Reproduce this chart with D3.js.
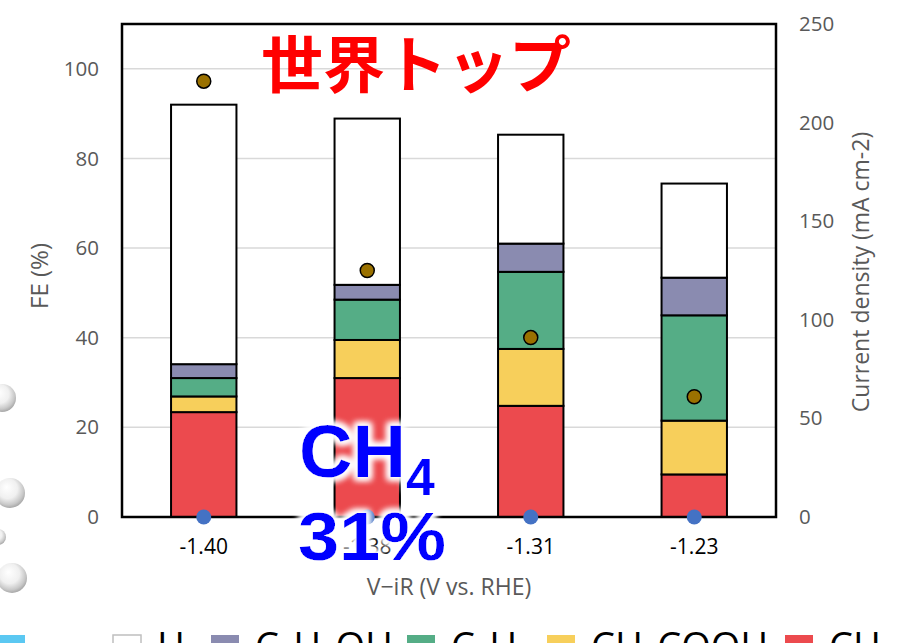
<!DOCTYPE html>
<html>
<head>
<meta charset="utf-8">
<script src="https://cdn.jsdelivr.net/npm/d3@7"></script>
<style>
  html, body { margin: 0; padding: 0; background: #fff; }
  svg { display: block; }
</style>
</head>
<body>
<svg id="chart" width="902" height="643"></svg>
<script>
// Potential (V vs. RHE) categories
const categories = ["-1.40", "-1.38", "-1.31", "-1.23"];
// Faradaic efficiency (%) per product, stacked bottom to top
const ch4     = [23.4, 31.0, 24.8, 9.5];
const ch3cooh = [3.5, 8.5, 12.7, 12.0];
const c2h4    = [4.1, 9.0, 17.2, 23.5];
const c2h5oh  = [3.1, 3.3, 6.3, 8.4];
const h2      = [57.9, 37.1, 24.3, 21.0];
// Current density (mA cm-2), right axis
const currentDensity = [221, 125, 91, 61];
// Marker series sitting on the zero line
const baseMarkers = [0, 0, 0, 0];
// Axis ticks
const leftTicks = [0, 20, 40, 60, 80, 100];
const rightTicks = [0, 50, 100, 150, 200, 250];

const products = [
  { key: "CH4",     values: ch4,     color: "#ec4a4e", label: ["CH", "4"] },
  { key: "CH3COOH", values: ch3cooh, color: "#f7cf5b", label: ["CH", "3", "COOH"] },
  { key: "C2H4",    values: c2h4,    color: "#55ad86", label: ["C", "2", "H", "4"] },
  { key: "C2H5OH",  values: c2h5oh,  color: "#8a8bb0", label: ["C", "2", "H", "5", "OH"] },
  { key: "H2",      values: h2,      color: "#ffffff", label: ["H", "2"] }
];

const svg = d3.select("#chart");
const W = 902, H = 643;
const m = { left: 122, top: 24, right: 126, bottom: 126 };
const pw = W - m.left - m.right, ph = H - m.top - m.bottom;

const x = d3.scaleBand().domain(categories).range([m.left, m.left + pw])
  .paddingInner(0.6).paddingOuter(0.3);
const yL = d3.scaleLinear().domain([0, 110]).range([m.top + ph, m.top]);
const yR = d3.scaleLinear().domain([0, 250]).range([m.top + ph, m.top]);

const defs = svg.append("defs");
const grad = defs.append("radialGradient").attr("id", "ball")
  .attr("cx", "45%").attr("cy", "40%").attr("r", "60%").attr("fx", "38%").attr("fy", "30%");
grad.append("stop").attr("offset", "0%").attr("stop-color", "#ffffff");
grad.append("stop").attr("offset", "55%").attr("stop-color", "#f0f0f0");
grad.append("stop").attr("offset", "85%").attr("stop-color", "#c8c8c8");
grad.append("stop").attr("offset", "100%").attr("stop-color", "#a8a8a8");

const halo = defs.append("filter").attr("id", "halo")
  .attr("x", "-20%").attr("y", "-30%").attr("width", "140%").attr("height", "160%");
halo.append("feMorphology").attr("in", "SourceAlpha").attr("operator", "dilate").attr("radius", 3).attr("result", "d");
halo.append("feGaussianBlur").attr("in", "d").attr("stdDeviation", 3).attr("result", "b");
halo.append("feFlood").attr("flood-color", "#ffffff");
halo.append("feComposite").attr("in2", "b").attr("operator", "in").attr("result", "w");
const hm = halo.append("feMerge");
hm.append("feMergeNode").attr("in", "w");
hm.append("feMergeNode").attr("in", "w");
hm.append("feMergeNode").attr("in", "SourceGraphic");

// decorative molecule spheres on the left edge
const balls = [[2, 398, 14], [10, 493, 15], [-2, 537, 8], [12, 578, 15]];
svg.append("g").selectAll("circle").data(balls).join("circle")
  .attr("cx", d => d[0]).attr("cy", d => d[1]).attr("r", d => d[2])
  .attr("fill", "url(#ball)");

// gridlines
svg.append("g").selectAll("line").data(leftTicks.filter(t => t > 0)).join("line")
  .attr("x1", m.left).attr("x2", m.left + pw)
  .attr("y1", d => yL(d)).attr("y2", d => yL(d))
  .attr("stroke", "#d9d9d9").attr("stroke-width", 1.5);

// stacked bars
const rows = categories.map((c, i) => {
  const r = { cat: c };
  products.forEach(p => r[p.key] = p.values[i]);
  return r;
});
const stack = d3.stack().keys(products.map(p => p.key))(rows);
const colorOf = Object.fromEntries(products.map(p => [p.key, p.color]));
svg.append("g").selectAll("g").data(stack).join("g")
  .attr("fill", d => colorOf[d.key])
  .selectAll("rect").data(d => d).join("rect")
  .attr("x", d => x(d.data.cat))
  .attr("width", x.bandwidth())
  .attr("y", d => yL(d[1]))
  .attr("height", d => yL(d[0]) - yL(d[1]))
  .attr("stroke", "#000").attr("stroke-width", 2);

// plot frame
svg.append("rect").attr("x", m.left).attr("y", m.top).attr("width", pw).attr("height", ph)
  .attr("fill", "none").attr("stroke", "#000").attr("stroke-width", 2.5);

// axes
const tickFont = "'Open Sans', sans-serif";
const gL = svg.append("g").attr("transform", `translate(${m.left},0)`)
  .call(d3.axisLeft(yL).tickValues(leftTicks).tickSize(0).tickPadding(23));
const gR = svg.append("g").attr("transform", `translate(${m.left + pw},0)`)
  .call(d3.axisRight(yR).tickValues(rightTicks).tickSize(0).tickPadding(23));
const gX = svg.append("g").attr("transform", `translate(0,${m.top + ph})`)
  .call(d3.axisBottom(x).tickSize(0).tickPadding(22));
[gL, gR].forEach(g => {
  g.select(".domain").remove();
  g.selectAll("text").attr("font-family", tickFont).attr("font-size", 20.5).attr("fill", "#595959");
});
gX.select(".domain").remove();
gX.selectAll("text").attr("font-family", tickFont).attr("font-size", 21).attr("fill", "#000");

// axis titles
svg.append("text").attr("transform", "translate(48,276) rotate(-90)")
  .attr("text-anchor", "middle").attr("font-family", tickFont).attr("font-size", 24)
  .attr("fill", "#595959").text("FE (%)");
svg.append("text").attr("transform", "translate(869,272) rotate(-90)")
  .attr("text-anchor", "middle").attr("font-family", tickFont).attr("font-size", 23)
  .attr("fill", "#595959").text("Current density (mA cm-2)");
svg.append("text").attr("x", 449).attr("y", 595)
  .attr("text-anchor", "middle").attr("font-family", tickFont).attr("font-size", 23)
  .attr("fill", "#595959").text("V\u2212iR (V vs. RHE)");

// markers
svg.append("g").selectAll("circle").data(baseMarkers).join("circle")
  .attr("cx", (d, i) => x(categories[i]) + x.bandwidth() / 2)
  .attr("cy", d => yL(d)).attr("r", 7.5).attr("fill", "#4472c4");
svg.append("g").selectAll("circle").data(currentDensity).join("circle")
  .attr("cx", (d, i) => x(categories[i]) + x.bandwidth() / 2)
  .attr("cy", d => yR(d)).attr("r", 7).attr("fill", "#9a7100")
  .attr("stroke", "#000").attr("stroke-width", 1.5);

// headline
svg.append("text").attr("x", 261).attr("y", 88)
  .attr("font-family", "'Noto Sans CJK JP', sans-serif").attr("font-weight", 700)
  .attr("font-size", 62).attr("fill", "#ff0000").text("世界トップ");

// CH4 callout
const call = svg.append("g").attr("filter", "url(#halo)")
  .attr("font-family", "'Liberation Sans', Arial, sans-serif").attr("font-weight", 700)
  .attr("fill", "#0000ff");
const t1 = call.append("text").attr("x", 299).attr("y", 477).attr("font-size", 74);
t1.append("tspan").text("CH");
t1.append("tspan").attr("font-size", 52).attr("dy", 18).text("4");
call.append("text").attr("x", 298).attr("y", 560).attr("font-size", 68)
  .attr("textLength", 148).attr("lengthAdjust", "spacingAndGlyphs").text("31%");

// legend (bottom row)
svg.append("rect").attr("x", -5).attr("y", 635).attr("width", 30).attr("height", 30).attr("fill", "#5bc8f2");
const legendX = { H2: 113, C2H5OH: 211, C2H4: 407, CH3COOH: 547, CH4: 785 };
const lg = svg.append("g");
products.slice().reverse().forEach(p => {
  const bx = legendX[p.key];
  lg.append("rect").attr("x", bx).attr("y", 635).attr("width", 28).attr("height", 28)
    .attr("fill", p.color).attr("stroke", p.key === "H2" ? "#bfbfbf" : "none").attr("stroke-width", 1.5);
  const t = lg.append("text").attr("x", bx + 44).attr("y", 660)
    .attr("font-family", tickFont).attr("font-size", 38).attr("fill", "#000");
  p.label.forEach((s, i) => {
    const sub = i % 2 === 1;
    t.append("tspan").attr("font-size", sub ? 25 : 38)
      .attr("dy", i === 0 ? 0 : (sub ? 9 : -9)).text(s);
  });
});
</script>
</body>
</html>
